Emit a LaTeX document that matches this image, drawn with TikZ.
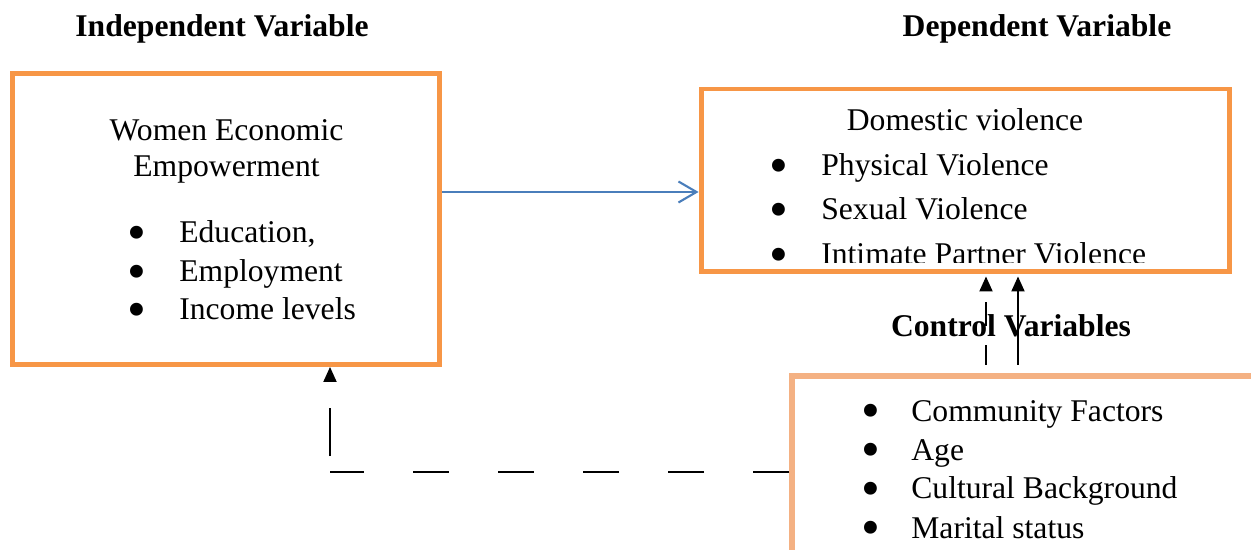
\documentclass[tikz,border=0pt]{standalone}
\usepackage{fontspec}
\setmainfont{Liberation Serif}
\usetikzlibrary{arrows.meta}
\definecolor{boxorange}{HTML}{F79646}
\definecolor{ctrlorange}{HTML}{F4B183}
\definecolor{linkblue}{HTML}{4A7EBB}
\newcommand{\bigbul}{\raisebox{-4.2pt}[6pt][0pt]{\scalebox{1.7}{\textbullet}}}
\begin{document}
\begin{tikzpicture}[x=0.02cm,y=-0.02cm,
  box/.style={draw=boxorange,line width=2.83pt,rectangle,inner sep=0pt},
  ctrlbox/.style={draw=ctrlorange,line width=3pt,rectangle,inner sep=0pt},
  txt/.style={anchor=base west,inner sep=0pt,font=\fontsize{18}{22}\selectfont},
  ctxt/.style={anchor=base,inner sep=0pt,font=\fontsize{18}{22}\selectfont},
  ttl/.style={anchor=base,inner sep=0pt,font=\fontsize{18}{22}\selectfont\bfseries},
  bul/.style={anchor=base,inner sep=0pt,font=\fontsize{18}{22}\selectfont},
  tri/.style={-{Triangle[length=0.3cm,width=0.26cm]},line width=1.1pt,black},
]
\clip (0,0) rectangle (1251,550);
\fill[white] (0,0) rectangle (1251,550);

% titles
\node[ttl] (tind) at (222,37) {Independent Variable};
\node[ttl] (tdep) at (1037,37) {Dependent Variable};
\node[ttl] (tctrl) at (1011,337) {Control Variables};

% boxes
\node[box,minimum width=8.55cm,minimum height=5.82cm] (wee) at (226.25,219) {};
\node[box,minimum width=10.58cm,minimum height=3.66cm] (dv) at (965.5,180.5) {};
\node[ctrlbox,minimum width=9.96cm,minimum height=4.48cm] (cv) at (1041,488) {};

% left box text
\node[ctxt] (w1) at (226.5,141) {Women Economic};
\node[ctxt] (w2) at (226.5,177) {Empowerment};
\node[bul] (wb1) at (137,243) {\bigbul};
\node[txt] (wi1) at (179,243) {Education,};
\node[bul] (wb2) at (137,282) {\bigbul};
\node[txt] (wi2) at (179,282) {Employment};
\node[bul] (wb3) at (137,320) {\bigbul};
\node[txt] (wi3) at (179,320) {Income levels};

% right box text
\node[ctxt] (d0) at (965,131) {Domestic violence};
\node[bul] (db1) at (779,176) {\bigbul};
\node[txt] (di1) at (821,176) {Physical Violence};
\node[bul] (db2) at (779,220) {\bigbul};
\node[txt] (di2) at (821,220) {Sexual Violence};
\begin{scope}
  \clip (700,80) rectangle (1232,263);
  \node[bul] (db3) at (779,265) {\bigbul};
  \node[txt] (di3) at (821,265) {Intimate Partner Violence};
\end{scope}

% control box text
\node[bul] (cb1) at (871,421) {\bigbul};
\node[txt] (ci1) at (911,421) {Community Factors};
\node[bul] (cb2) at (871,460) {\bigbul};
\node[txt] (ci2) at (911,460) {Age};
\node[bul] (cb3) at (871,499) {\bigbul};
\node[txt] (ci3) at (911,499) {Cultural Background};
\node[bul] (cb4) at (871,538) {\bigbul};
\node[txt] (ci4) at (911,538) {Marital status};

% blue arrow
\draw[linkblue,line width=1.2pt,-{Straight Barb[length=0.36cm,width=0.42cm,line width=1.2pt]}]
  (wee.east |- 0,192) -- (dv.west |- 0,192);

% dashed link from control box to left box
\coordinate (corner) at (330,472);
\draw[line width=1.1pt,dash pattern=on 0.72cm off 0.984cm] (cv.west |- corner) -- (corner);
\draw[tri,dash pattern=on 0.96cm off 0.84cm,dash phase=1.48cm] (corner) -- (wee.south -| corner);

% arrows from control variables up to domestic violence
\coordinate (ca) at (986,365);
\coordinate (cb) at (1018,365);
\draw[tri,dash pattern=on 0.4cm off 0.38cm on 0.48cm off 0.6cm,shorten >=0.04cm] (ca) -- (dv.south -| ca);
\draw[tri,shorten >=0.04cm] (cb) -- (dv.south -| cb);
\end{tikzpicture}
\end{document}
